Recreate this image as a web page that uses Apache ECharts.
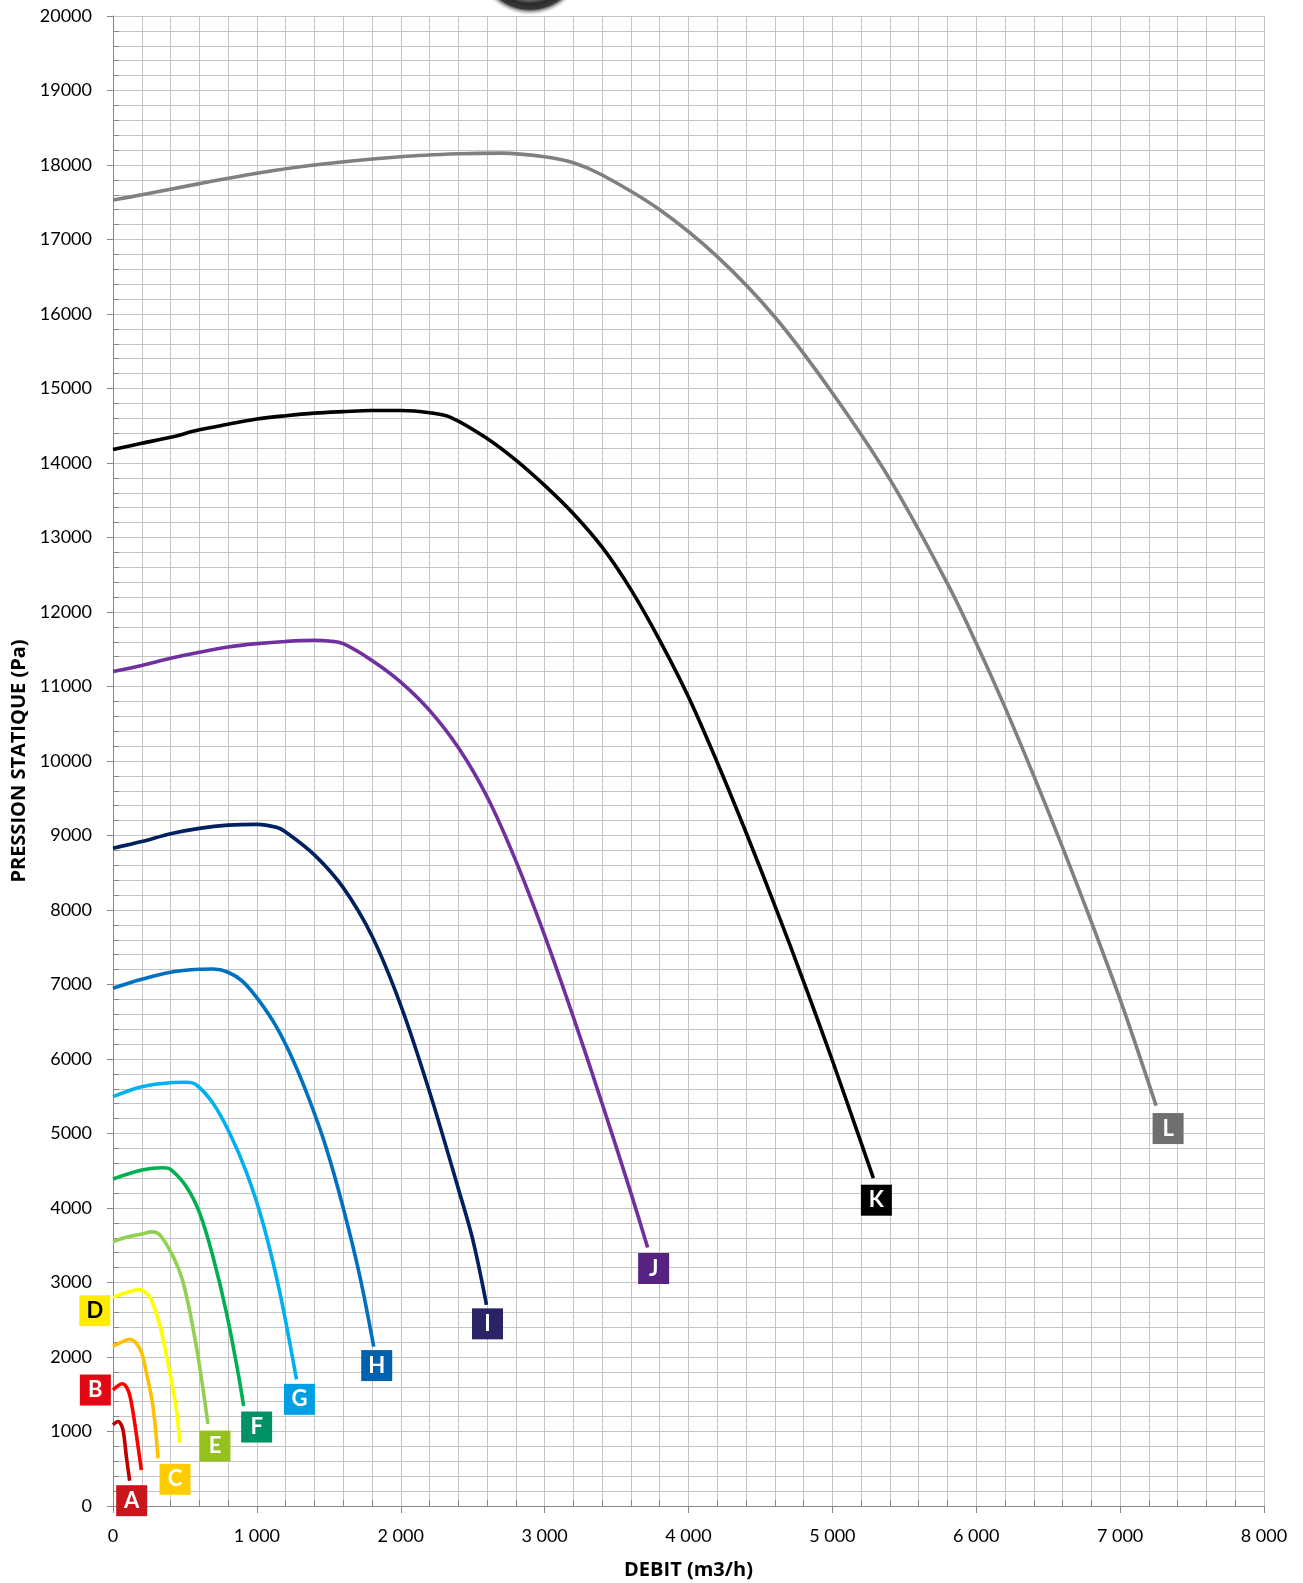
<!DOCTYPE html>
<html><head><meta charset="utf-8">
<script src="https://cdn.jsdelivr.net/npm/echarts@6/dist/echarts.min.js"></script>
<style>html,body{margin:0;padding:0;background:#fff}#c{width:1303px;height:1583px}</style>
</head><body><div id="c"></div>
<script>
// Fan curves: [débit m3/h, pression Pa]
const curveA = [[0,1090],[35,1135],[60,1080],[75,960],[93,662],[116,340]];
const curveB = [[0,1557],[65,1640],[104,1557],[128,1379],[151,1110],[197,483]];
const curveC = [[0,2145],[60,2200],[116,2238],[162,2184],[200,2050],[232,1790],[278,1333],[313,640]];
const curveD = [[0,2800],[100,2870],[186,2905],[230,2860],[267,2765],[325,2430],[394,1800],[441,1289],[464,850]];
const curveE = [[0,3548],[100,3610],[200,3650],[270,3680],[330,3630],[420,3340],[480,3050],[540,2550],[600,1900],[660,1100]];
const curveF = [[0,4389],[200,4510],[348,4541],[400,4519],[510,4286],[603,3929],[695,3346],[788,2600],[870,1780],[908,1342]];
const curveG = [[0,5494],[200,5628],[400,5682],[510,5687],[580,5651],[695,5405],[811,5003],[927,4480],[1042,3800],[1158,2880],[1275,1700]];
const curveH = [[0,6950],[200,7070],[400,7164],[600,7204],[695,7208],[800,7164],[903,7038],[1020,6770],[1135,6434],[1251,5987],[1367,5440],[1483,4800],[1598,4017],[1715,3090],[1812,2140]];
const curveI = [[0,8830],[200,8918],[400,9024],[600,9096],[800,9139],[1000,9150],[1136,9110],[1200,9048],[1400,8740],[1600,8300],[1800,7650],[2000,6720],[2200,5560],[2400,4260],[2500,3580],[2596,2700]];
const curveJ = [[0,11200],[200,11283],[400,11380],[600,11460],[800,11530],[1000,11575],[1200,11605],[1400,11620],[1500,11610],[1600,11575],[1800,11350],[2000,11060],[2200,10680],[2400,10180],[2600,9520],[2800,8660],[3000,7660],[3200,6560],[3400,5400],[3600,4200],[3716,3470]];
const curveK = [[0,14180],[200,14265],[400,14345],[600,14445],[800,14520],[1000,14590],[1200,14635],[1400,14670],[1600,14690],[1800,14705],[2000,14705],[2200,14675],[2350,14610],[2600,14330],[2800,14040],[3000,13700],[3200,13320],[3400,12870],[3600,12300],[3800,11620],[4000,10860],[4200,9980],[4400,9040],[4600,8060],[4800,7040],[5000,5980],[5285,4400]];
const curveL = [[0,17530],[200,17600],[600,17750],[1000,17890],[1400,18000],[2000,18110],[2400,18150],[2700,18160],[3000,18110],[3200,18030],[3400,17866],[3800,17400],[4200,16770],[4600,15960],[5000,14940],[5400,13780],[5800,12380],[6000,11580],[6200,10720],[6400,9800],[6600,8840],[6800,7840],[7000,6800],[7250,5375]];

const curves = [curveA,curveB,curveC,curveD,curveE,curveF,curveG,curveH,curveI,curveJ,curveK,curveL];
const letters = ['A','B','C','D','E','F','G','H','I','J','K','L'];
const xTicks = [0,1000,2000,3000,4000,5000,6000,7000,8000];

// styles
const lineColors = ['#C00000','#FF0000','#FFC000','#FFFF00','#92D050','#00B050','#00B0F0','#0070C0','#002060','#7030A0','#000000','#808080'];
const boxColors  = ['#C8161D','#E30613','#FFCC00','#FFED00','#95C11F','#009265','#009FE3','#0062AE','#2A2366','#582282','#000000','#6F6F6F'];
const textColors = ['#fff','#fff','#fff','#000','#fff','#fff','#fff','#fff','#fff','#fff','#fff','#fff'];
const boxOffsets = [[2,20],[-46,-80],[17,21],[-85,-132],[7,22],[13,21],[3,20],[3,19],[1,19],[6,21],[3,22],[12,23]];

const FONT = 'Lato, "Open Sans", sans-serif';
const TFONT = '"Open Sans", Lato, sans-serif';
const AX = '#868686', GRID = '#c4c4c4';

const series = curves.map((c, i) => ({
  name: letters[i], type: 'line', data: c, symbol: 'none', smooth: 0.35,
  lineStyle: { color: lineColors[i], width: 3.6 }, z: 3, silent: true,
  markPoint: {
    symbol: 'rect', symbolSize: [31, 31], symbolOffset: boxOffsets[i], silent: true,
    itemStyle: { color: boxColors[i] },
    label: { show: true, position: 'inside', formatter: letters[i], color: textColors[i],
             fontFamily: FONT, fontWeight: 'bold', fontSize: 22 },
    data: [{ coord: c[c.length - 1] }]
  }
}));

const chart = echarts.init(document.getElementById('c'), null, { renderer: 'canvas' });
chart.setOption({
  animation: false,
  backgroundColor: '#fff',
  grid: { left: 113, right: 39, top: 16, bottom: 77, outerBoundsMode: 'none', containLabel: false },
  xAxis: [{
    type: 'value', min: 0, max: 8000, interval: 1000,
    name: 'DEBIT (m3/h)', nameLocation: 'middle', nameGap: 54,
    nameTextStyle: { fontFamily: TFONT, fontWeight: 'bold', fontSize: 20, color: '#000' },
    axisLine: { show: true, lineStyle: { color: AX } },
    axisTick: { show: true, length: 7, lineStyle: { color: AX } },
    axisLabel: { fontFamily: FONT, fontSize: 18, color: '#000', margin: 21,
      formatter: v => xTicks.includes(v) ? (v >= 1000 ? Math.floor(v/1000) + ' ' + String(v%1000).padStart(3,'0') : String(v)) : '' },
    splitLine: { show: true, lineStyle: { color: GRID } },
    minorTick: { show: false, splitNumber: 5 },
    minorSplitLine: { show: true, lineStyle: { color: GRID } }
  }, {
    type: 'value', min: 0, max: 8000, interval: 1000, position: 'bottom',
    axisLine: { show: false }, axisTick: { show: false, inside: true }, axisLabel: { show: false },
    splitLine: { show: false },
    minorTick: { show: true, splitNumber: 5, length: 6, lineStyle: { color: AX } }
  }],
  yAxis: [{
    type: 'value', min: 0, max: 20000, interval: 1000,
    name: 'PRESSION STATIQUE (Pa)', nameLocation: 'middle', nameGap: 84,
    nameTextStyle: { fontFamily: TFONT, fontWeight: 'bold', fontSize: 20, color: '#000' },
    axisLine: { show: true, lineStyle: { color: AX } },
    axisTick: { show: true, length: 6, lineStyle: { color: AX } },
    axisLabel: { fontFamily: FONT, fontSize: 18, color: '#000', margin: 21, formatter: v => String(v) },
    splitLine: { show: true, lineStyle: { color: GRID } },
    minorTick: { show: false, splitNumber: 5 },
    minorSplitLine: { show: true, lineStyle: { color: GRID } }
  }, {
    type: 'value', min: 0, max: 20000, interval: 1000, position: 'left',
    axisLine: { show: false }, axisTick: { show: false, inside: true }, axisLabel: { show: false },
    splitLine: { show: false },
    minorTick: { show: true, splitNumber: 5, length: 6, lineStyle: { color: AX } }
  }],
  graphic: [
    { type: 'circle', shape: { cx: 530, cy: -40, r: 56 }, z: 100, silent: true,
      style: { fill: new echarts.graphic.RadialGradient(0.5, 0.5, 0.5, [
        { offset: 0, color: '#9a9a9a' }, { offset: 0.68, color: '#8a8a8a' },
        { offset: 0.78, color: '#2a2a2a' }, { offset: 0.88, color: '#383838' },
        { offset: 1, color: 'rgba(255,255,255,0)' }]) } }
  ],
  series: series
});
</script></body></html>
